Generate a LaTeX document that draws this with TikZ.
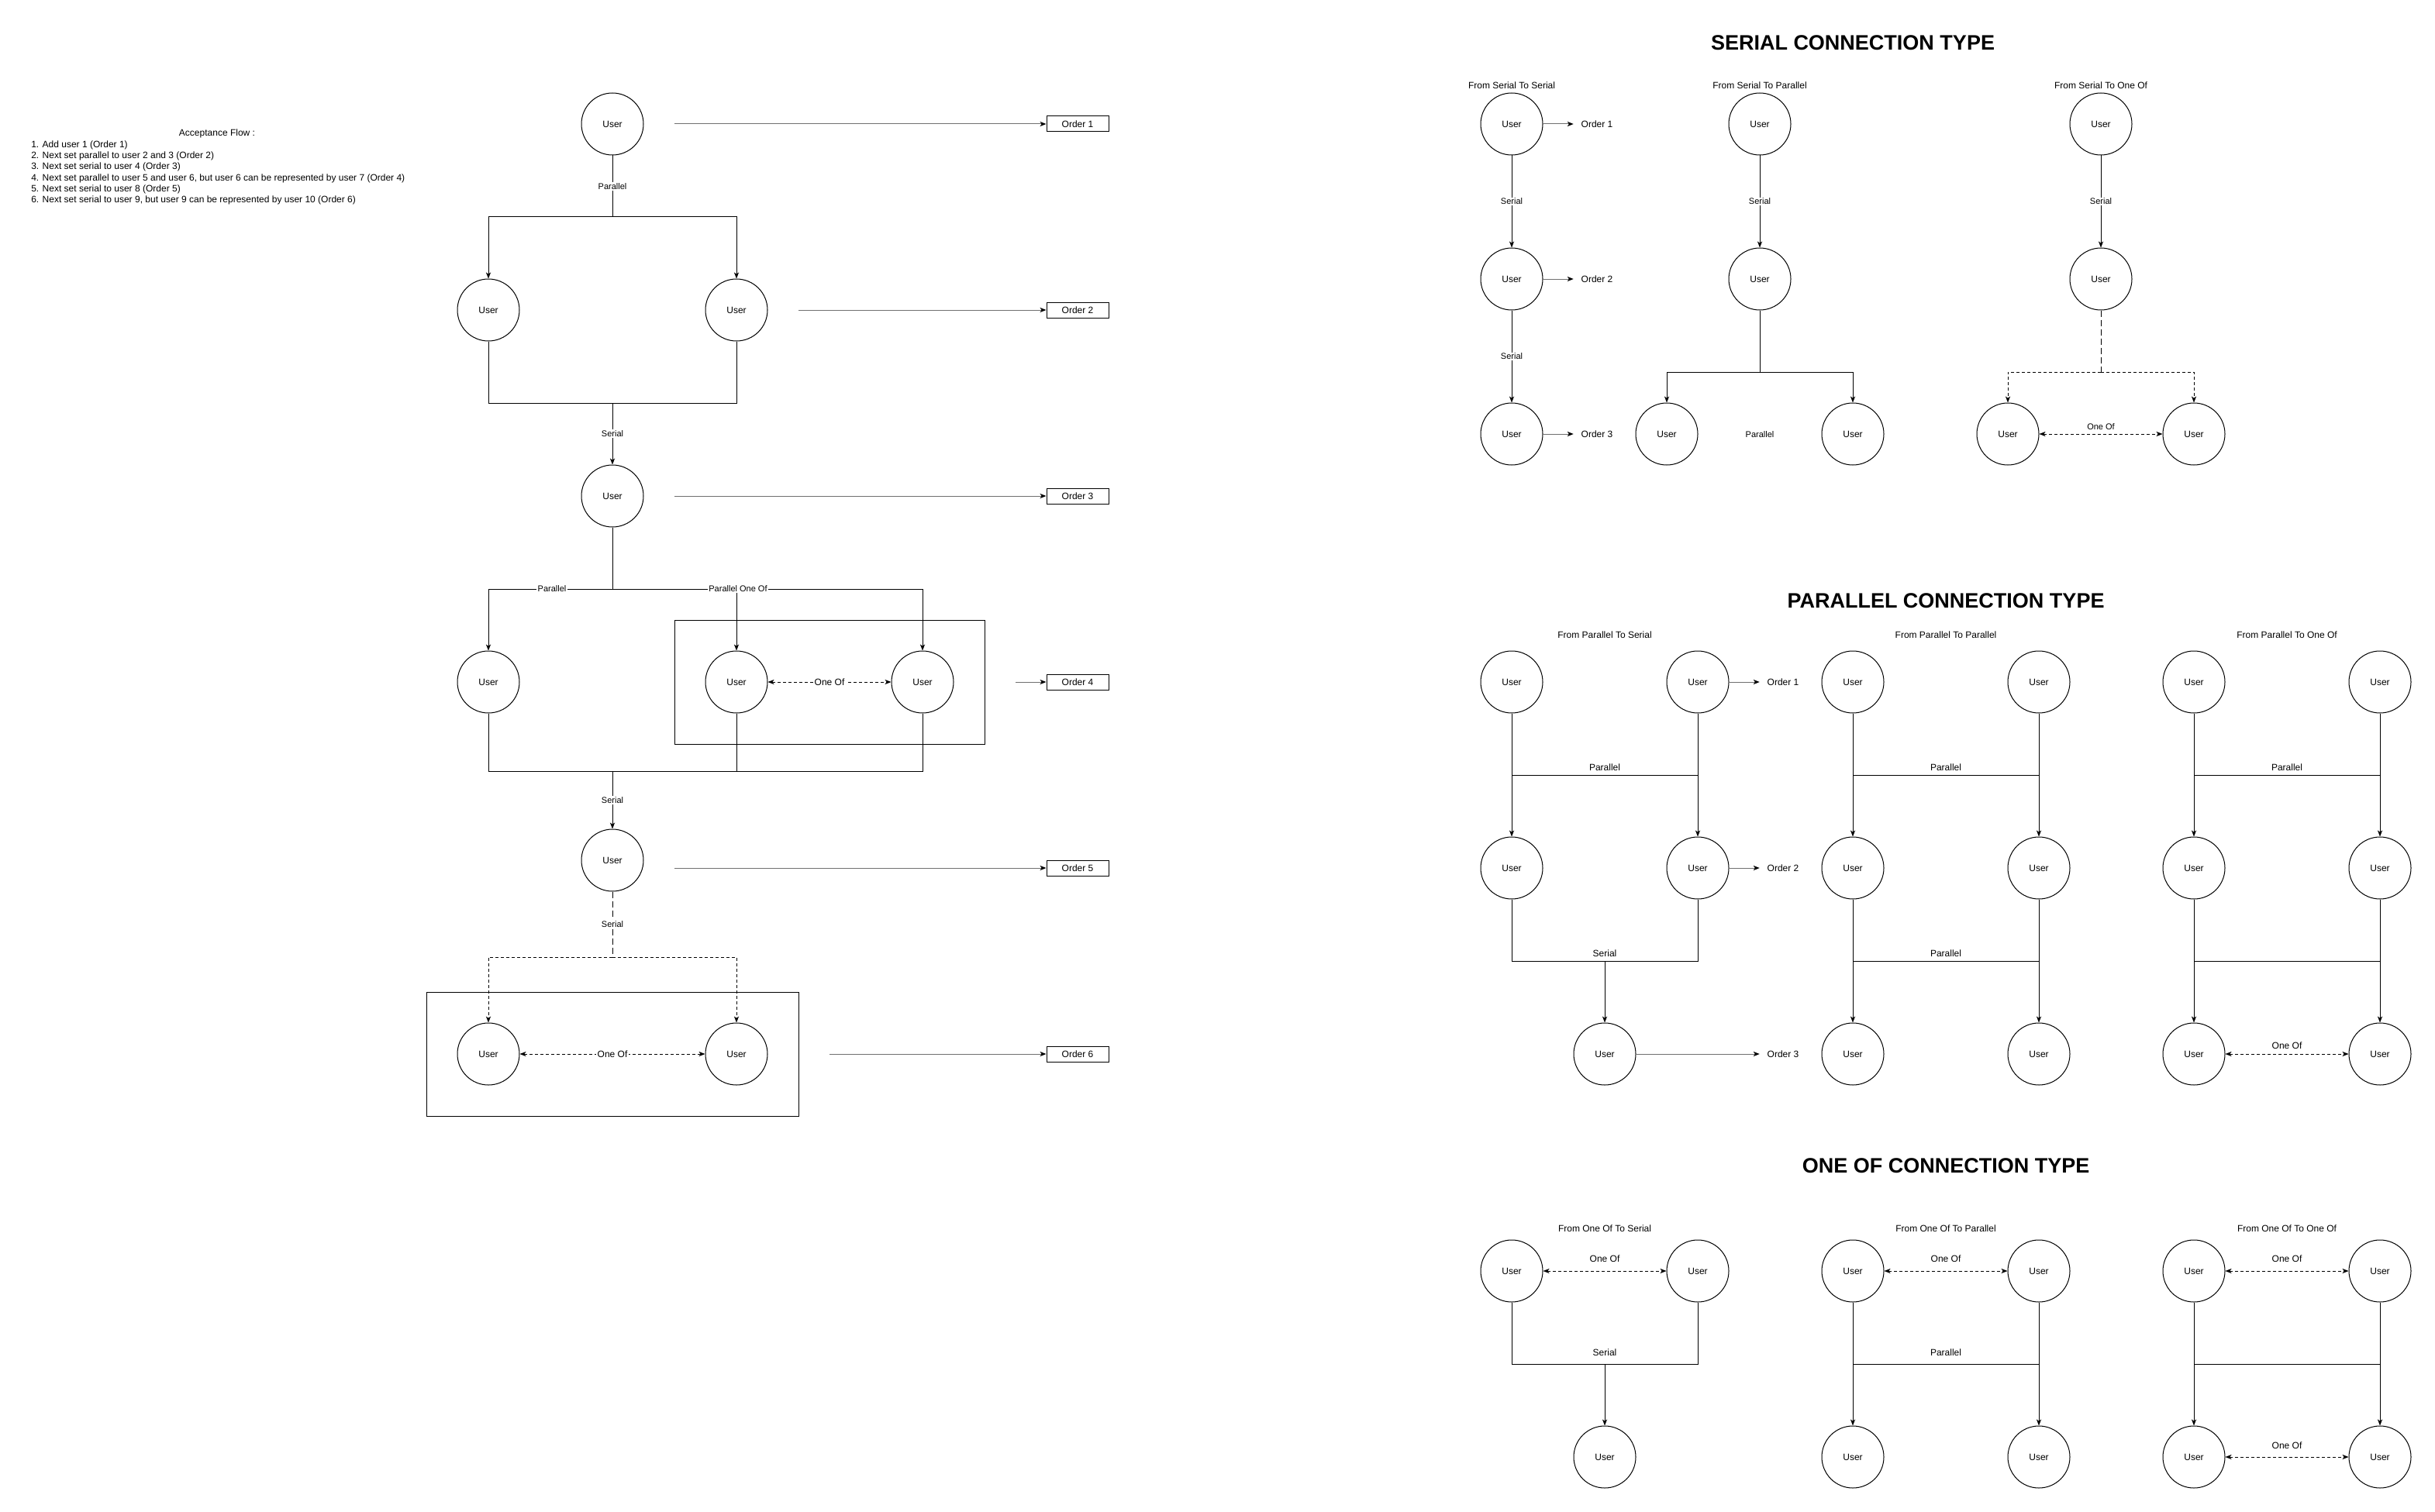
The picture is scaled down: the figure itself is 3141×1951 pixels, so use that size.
\documentclass[tikz,border=0pt]{standalone}
\usepackage{fontspec}
\setmainfont{Liberation Sans}
\usetikzlibrary{arrows.meta}
\definecolor{ordgray}{RGB}{112,112,112}
\newcommand{\txtL}{\fontsize{9pt}{10.8pt}\selectfont}
\newcommand{\txtS}{\fontsize{8.25pt}{9.9pt}\selectfont}
\newcommand{\txtT}{\fontsize{20.25pt}{24pt}\selectfont\bfseries}
\tikzset{
  tip/.tip={Stealth[length=6pt,width=4.6pt,inset=1.6pt]},
  user/.style={circle, draw, line width=0.75pt, minimum size=60pt, inner sep=0pt, font=\txtL},
  orderbox/.style={rectangle, draw, line width=0.75pt, minimum width=60pt, minimum height=15pt, inner sep=0pt, font=\txtL},
  ordtxt/.style={minimum width=45pt, inner sep=0pt, font=\txtL},
  groupbox/.style={rectangle, draw, line width=0.75pt, inner sep=0pt},
  plain/.style={inner sep=0pt, font=\txtL},
  elbl/.style={fill=white, inner sep=1pt, font=\txtS},
  onlbl/.style={fill=white, inner sep=1pt, font=\txtL},
  title/.style={inner sep=0pt, font=\txtT},
  link/.style={line width=0.75pt, draw=black},
  arr/.style={link, -tip},
  ordarr/.style={line width=0.75pt, draw=ordgray, -{Stealth[length=6pt,width=4.6pt,inset=1.6pt,black]}},
  trunk/.style={link, dash pattern=on 6pt off 3pt},
  dots/.style={link, dash pattern=on 3pt off 2.25pt},
  dotarr/.style={dots, -tip},
  biarr/.style={dots, tip-tip},
}
\begin{document}
\begin{tikzpicture}[x=0.75pt,y=-0.75pt]
\fill[white] (0,0) rectangle (3141,1951);
\useasboundingbox (0,0) rectangle (3141,1951);

% ---------- acceptance flow notes ----------
\node[plain] (accT) at (280,172) {Acceptance Flow :};
\node[plain, anchor=west] (acc1) at (40,187) {1. Add user 1 (Order 1)};
\node[plain, anchor=west] (acc2) at (40,201.3) {2. Next set parallel to user 2 and 3 (Order 2)};
\node[plain, anchor=west] (acc3) at (40,215.6) {3. Next set serial to user 4 (Order 3)};
\node[plain, anchor=west] (acc4) at (40,229.9) {4. Next set parallel to user 5 and user 6, but user 6 can be represented by user 7 (Order 4)};
\node[plain, anchor=west] (acc5) at (40,244.2) {5. Next set serial to user 8 (Order 5)};
\node[plain, anchor=west] (acc6) at (40,258.5) {6. Next set serial to user 9, but user 9 can be represented by user 10 (Order 6)};

% ---------- example flow ----------
\node[groupbox, minimum width=300pt, minimum height=120pt] (grpFG) at (1070,880) {};
\node[groupbox, minimum width=360pt, minimum height=120pt] (grpIJ) at (790,1360) {};

\node[user] (uA) at (790,160) {User};
\node[user] (uB) at (630,400) {User};
\node[user] (uC) at (950,400) {User};
\node[user] (uD) at (790,640) {User};
\node[user] (uE) at (630,880) {User};
\node[user] (uF) at (950,880) {User};
\node[user] (uG) at (1190,880) {User};
\node[user] (uH) at (790,1110) {User};
\node[user] (uI) at (630,1360) {User};
\node[user] (uJ) at (950,1360) {User};

\node[orderbox] (o1) at (1390,160) {Order 1};
\node[orderbox] (o2) at (1390,400) {Order 2};
\node[orderbox] (o3) at (1390,640) {Order 3};
\node[orderbox] (o4) at (1390,880) {Order 4};
\node[orderbox] (o5) at (1390,1120) {Order 5};
\node[orderbox] (o6) at (1390,1360) {Order 6};

\coordinate (s1) at (870,160);
\coordinate (s2) at (1030,400);
\coordinate (s3) at (870,640);
\coordinate (s4) at (1310,880);
\coordinate (s5) at (870,1120);
\coordinate (s6) at (1070,1360);
\draw[ordarr] (s1) -- (o1);
\draw[ordarr] (s2) -- (o2);
\draw[ordarr] (s3) -- (o3);
\draw[ordarr] (s4) -- (o4);
\draw[ordarr] (s5) -- (o5);
\draw[ordarr] (s6) -- (o6);

\coordinate (jA) at (790,280);
\draw[link] (uA.south) -- node[elbl] {Parallel} (jA);
\draw[arr] (jA) -| (uB.north);
\draw[arr] (jA) -| (uC.north);

\coordinate (jB) at (790,520);
\draw[link] (uB.south) |- (jB);
\draw[link] (uC.south) |- (jB);
\draw[arr] (jB) -- node[elbl] {Serial} (uD.north);

\coordinate (jD) at (790,760);
\draw[link] (uD.south) -- (jD);
\draw[arr] (jD) -| (uE.north);
\draw[arr] (jD) -| (uF.north);
\draw[arr] (jD) -| (uG.north);
\node[elbl] (lPar) at (712,760) {Parallel};
\node[elbl] (lParOne) at (952,760) {Parallel One Of};
\draw[biarr] (uF) -- node[onlbl] {One Of} (uG);

\coordinate (jE) at (790,995);
\draw[link] (uE.south) |- (jE);
\draw[link] (uF.south) |- (jE);
\draw[link] (uG.south) |- (jE);
\draw[arr] (jE) -- node[elbl] {Serial} (uH.north);

\coordinate (jH) at (790,1235);
\draw[trunk] (uH.south) -- node[elbl] {Serial} (jH);
\draw[dotarr] (jH) -| (uI.north);
\draw[dotarr] (jH) -| (uJ.north);
\draw[biarr] (uI) -- node[onlbl] {One Of} (uJ);

% ---------- serial connection type ----------
\node[title] (tSer) at (2390,55) {SERIAL CONNECTION TYPE};
\node[plain] (hS1) at (1950,110) {From Serial To Serial};
\node[plain] (hS2) at (2270,110) {From Serial To Parallel};
\node[plain] (hS3) at (2710,110) {From Serial To One Of};

\node[user] (s1a) at (1950,160) {User};
\node[user] (s1b) at (1950,360) {User};
\node[user] (s1c) at (1950,560) {User};
\draw[arr] (s1a) -- node[elbl] {Serial} (s1b);
\draw[arr] (s1b) -- node[elbl] {Serial} (s1c);
\node[ordtxt] (so1) at (2060,160) {Order 1};
\node[ordtxt] (so2) at (2060,360) {Order 2};
\node[ordtxt] (so3) at (2060,560) {Order 3};
\draw[ordarr] (s1a) -- (so1);
\draw[ordarr] (s1b) -- (so2);
\draw[ordarr] (s1c) -- (so3);

\node[user] (s2a) at (2270,160) {User};
\node[user] (s2b) at (2270,360) {User};
\node[user] (s2c) at (2150,560) {User};
\node[user] (s2d) at (2390,560) {User};
\draw[arr] (s2a) -- node[elbl] {Serial} (s2b);
\coordinate (jS2) at (2270,480);
\draw[link] (s2b) -- (jS2);
\draw[arr] (jS2) -| (s2c.north);
\draw[arr] (jS2) -| (s2d.north);
\node[elbl] (lS2) at (2270,561) {Parallel};

\node[user] (s3a) at (2710,160) {User};
\node[user] (s3b) at (2710,360) {User};
\node[user] (s3c) at (2590,560) {User};
\node[user] (s3d) at (2830,560) {User};
\draw[arr] (s3a) -- node[elbl] {Serial} (s3b);
\coordinate (jS3) at (2710,480);
\draw[trunk] (s3b) -- (jS3);
\draw[dotarr] (jS3) -| (s3c.north);
\draw[dotarr] (jS3) -| (s3d.north);
\draw[biarr] (s3c) -- (s3d);
\node[elbl, fill=none] (lS3) at (2710,551) {One Of};

% ---------- parallel connection type ----------
\node[title] (tPar) at (2510,775) {PARALLEL CONNECTION TYPE};
\node[plain] (hP1) at (2070,819) {From Parallel To Serial};
\node[plain] (hP2) at (2510,819) {From Parallel To Parallel};
\node[plain] (hP3) at (2950,819) {From Parallel To One Of};

\node[user] (p1a) at (1950,880) {User};
\node[user] (p1b) at (2190,880) {User};
\node[user] (p1c) at (1950,1120) {User};
\node[user] (p1d) at (2190,1120) {User};
\node[user] (p1e) at (2070,1360) {User};
\draw[arr] (p1a) -- (p1c);
\draw[arr] (p1b) -- (p1d);
\coordinate (hp1L) at (1950,1000);
\coordinate (hp1R) at (2190,1000);
\draw[link] (hp1L) -- (hp1R);
\node[plain] (lP1a) at (2070,990) {Parallel};
\coordinate (jP1) at (2070,1240);
\draw[link] (p1c.south) |- (jP1);
\draw[link] (p1d.south) |- (jP1);
\draw[arr] (jP1) -- (p1e.north);
\node[plain] (lP1b) at (2070,1230) {Serial};
\node[ordtxt] (po1) at (2300,880) {Order 1};
\node[ordtxt] (po2) at (2300,1120) {Order 2};
\node[ordtxt] (po3) at (2300,1360) {Order 3};
\draw[ordarr] (p1b) -- (po1);
\draw[ordarr] (p1d) -- (po2);
\draw[ordarr] (p1e) -- (po3);

\node[user] (p2a) at (2390,880) {User};
\node[user] (p2b) at (2630,880) {User};
\node[user] (p2c) at (2390,1120) {User};
\node[user] (p2d) at (2630,1120) {User};
\node[user] (p2e) at (2390,1360) {User};
\node[user] (p2f) at (2630,1360) {User};
\draw[arr] (p2a) -- (p2c);
\draw[arr] (p2b) -- (p2d);
\draw[arr] (p2c) -- (p2e);
\draw[arr] (p2d) -- (p2f);
\coordinate (hp2L) at (2390,1000);
\coordinate (hp2R) at (2630,1000);
\coordinate (hp2l) at (2390,1240);
\coordinate (hp2r) at (2630,1240);
\draw[link] (hp2L) -- (hp2R);
\draw[link] (hp2l) -- (hp2r);
\node[plain] (lP2a) at (2510,990) {Parallel};
\node[plain] (lP2b) at (2510,1230) {Parallel};

\node[user] (p3a) at (2830,880) {User};
\node[user] (p3b) at (3070,880) {User};
\node[user] (p3c) at (2830,1120) {User};
\node[user] (p3d) at (3070,1120) {User};
\node[user] (p3e) at (2830,1360) {User};
\node[user] (p3f) at (3070,1360) {User};
\draw[arr] (p3a) -- (p3c);
\draw[arr] (p3b) -- (p3d);
\draw[arr] (p3c) -- (p3e);
\draw[arr] (p3d) -- (p3f);
\coordinate (hp3L) at (2830,1000);
\coordinate (hp3R) at (3070,1000);
\coordinate (hp3l) at (2830,1240);
\coordinate (hp3r) at (3070,1240);
\draw[link] (hp3L) -- (hp3R);
\draw[link] (hp3l) -- (hp3r);
\node[plain] (lP3a) at (2950,990) {Parallel};
\draw[biarr] (p3e) -- (p3f);
\node[plain] (lP3b) at (2950,1349) {One Of};

% ---------- one of connection type ----------
\node[title] (tOne) at (2510,1504) {ONE OF CONNECTION TYPE};
\node[plain] (hQ1) at (2070,1585) {From One Of To Serial};
\node[plain] (hQ2) at (2510,1585) {From One Of To Parallel};
\node[plain] (hQ3) at (2950,1585) {From One Of To One Of};

\node[user] (q1a) at (1950,1640) {User};
\node[user] (q1b) at (2190,1640) {User};
\node[user] (q1c) at (2070,1880) {User};
\draw[biarr] (q1a) -- (q1b);
\node[plain] (lQ1a) at (2070,1624) {One Of};
\coordinate (jQ1) at (2070,1760);
\draw[link] (q1a.south) |- (jQ1);
\draw[link] (q1b.south) |- (jQ1);
\draw[arr] (jQ1) -- (q1c.north);
\node[plain] (lQ1b) at (2070,1745) {Serial};

\node[user] (q2a) at (2390,1640) {User};
\node[user] (q2b) at (2630,1640) {User};
\node[user] (q2c) at (2390,1880) {User};
\node[user] (q2d) at (2630,1880) {User};
\draw[biarr] (q2a) -- (q2b);
\node[plain] (lQ2a) at (2510,1624) {One Of};
\draw[arr] (q2a) -- (q2c);
\draw[arr] (q2b) -- (q2d);
\coordinate (hq2L) at (2390,1760);
\coordinate (hq2R) at (2630,1760);
\draw[link] (hq2L) -- (hq2R);
\node[plain] (lQ2b) at (2510,1745) {Parallel};

\node[user] (q3a) at (2830,1640) {User};
\node[user] (q3b) at (3070,1640) {User};
\node[user] (q3c) at (2830,1880) {User};
\node[user] (q3d) at (3070,1880) {User};
\draw[biarr] (q3a) -- (q3b);
\node[plain] (lQ3a) at (2950,1624) {One Of};
\draw[arr] (q3a) -- (q3c);
\draw[arr] (q3b) -- (q3d);
\coordinate (hq3L) at (2830,1760);
\coordinate (hq3R) at (3070,1760);
\draw[link] (hq3L) -- (hq3R);
\draw[biarr] (q3c) -- (q3d);
\node[plain] (lQ3b) at (2950,1865) {One Of};
\end{tikzpicture}
\end{document}
